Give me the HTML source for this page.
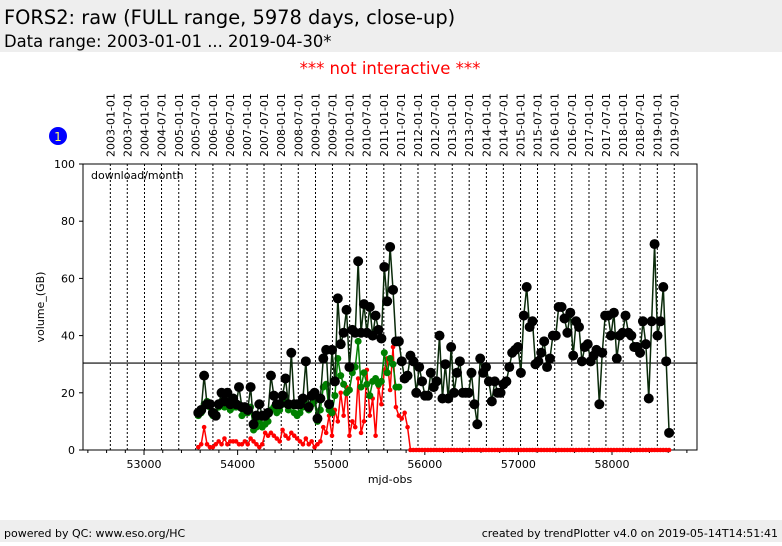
<!DOCTYPE html>
<html><head><meta charset="utf-8"><style>
body{margin:0;width:782px;height:542px;overflow:hidden;background:#fff;font-family:"DejaVu Sans","Liberation Sans",sans-serif}
</style></head><body>
<svg id="c" width="782" height="542" xmlns="http://www.w3.org/2000/svg" font-family="DejaVu Sans, Liberation Sans, sans-serif">
<rect x="0" y="0" width="782" height="52" fill="#eeeeee"/>
<text x="4" y="24" font-size="19.4" fill="#000">FORS2: raw (FULL range, 5978 days, close-up)</text>
<text x="4" y="47" font-size="16.4" fill="#000">Data range: 2003-01-01 ... 2019-04-30*</text>
<text x="390" y="74" font-size="16.5" fill="#ff0000" text-anchor="middle">*** not interactive ***</text>
<circle cx="58" cy="136" r="9" fill="#0000ff"/>
<text x="58" y="141" font-size="12" fill="#ffff66" text-anchor="middle">1</text>
<rect x="0" y="520" width="782" height="22" fill="#eeeeee"/>
<text x="4" y="537" font-size="11" fill="#000">powered by QC: www.eso.org/HC</text>
<text x="778" y="537" font-size="11" fill="#000" text-anchor="end">created by trendPlotter v4.0 on 2019-05-14T14:51:41</text>
<g id="plot"></g>
</svg>
<script>
const blackValues=[13,14,26,16,16,13,12,16,20,17,20,16,18,16,22,15,15,14,22,9,12,16,12,12,13,26,19,16,16,19,25,16,34,16,16,16,18,31,15,19,20,11,18,32,35,16,35,24,53,37,41,49,29,42,41,66,41,51,41,50,40,47,42,39,64,52,71,56,38,38,
31,25,26,33,31,20,29,24,19,19,27,22,24,40,18,30,18,36,20,27,31,20,20,20,27,16,9,32,27,29,24,17,24,20,20,23,24,29,34,35,36,27,47,57,43,45,30,31,34,38,29,32,40,40,50,50,46,41,48,33,45,43,31,36,37,31,33,35,16,34,47,47,40,48,32,40,41,47,41,40,36,36,34,45,37,18,45,72,40,45,57,31,6];
const greenValues=[12,13,16,17,15,12,12,15,17,15,17,14,15,15,16,12,13,13,15,7,8,10,8,9,10,14,15,13,14,16,17,14,16,13,12,13,15,16,14,16,17,10,14,22,23,14,13,19,32,26,23,20,21,27,29,38,22,27,23,19,24,25,23,24,34,27,32,30,22,22];
const redValues=[1,2,8,2,1,1,2,3,2,4,2,3,3,3,2,2,3,2,4,3,2,1,2,6,5,6,5,4,3,7,5,4,6,5,4,3,2,4,2,3,1,2,3,8,6,12,5,14,10,20,12,22,5,10,8,25,6,10,28,12,18,5,22,16,28,32,21,36,15,12,11,13,8];
const mjdStart=53580, mjdEnd=58610;
const averageValue=30.4;
const xTicks=[53000,54000,55000,56000,57000,58000];
const yTicks=[0,20,40,60,80,100];
const dateLabels=[];
for(let y=2003;y<=2019;y++){dateLabels.push(y+'-01-01');dateLabels.push(y+'-07-01');}

const NS='http://www.w3.org/2000/svg';
const g=document.getElementById('plot');
const L=83,R=697,T=164,B=450;
const X0=52348,X1=58908;
const xs=m=>L+(m-X0)/(X1-X0)*(R-L);
const ys=v=>B-v/100*(B-T);
function el(tag,attrs,parent){const e=document.createElementNS(NS,tag);for(const k in attrs)e.setAttribute(k,attrs[k]);(parent||g).appendChild(e);return e;}
const n=blackValues.length, step=(mjdEnd-mjdStart)/(n-1);
const mjdAt=i=>mjdStart+i*step;
const toMjd=s=>Date.parse(s+'T00:00:00Z')/86400000+40587;

dateLabels.forEach(d=>{
  const x=xs(toMjd(d));
  const ln=el('line',{x1:x,y1:T,x2:x,y2:B,stroke:'#000','stroke-width':1,'stroke-dasharray':'2,2'});
  
  
  const t=el('text',{x:0,y:0,'font-size':11,transform:`translate(${x+4},157) rotate(-90)`,fill:'#000'});
  t.textContent=d;
  
  
});
const fr=el('rect',{x:L,y:T,width:R-L,height:B-T,fill:'none',stroke:'#000','stroke-width':1});


yTicks.forEach(v=>{
  const y=ys(v);
  el('line',{x1:L-4,y1:y,x2:L,y2:y,stroke:'#000'});
  const t=el('text',{x:L-8,y:y+4,'font-size':11,'text-anchor':'end'});
  t.textContent=v;
  
  
});
for(let m=52400;m<=58800;m+=200){const x=xs(m);el('line',{x1:x,y1:B,x2:x,y2:B+(m%1000==0?5:3),stroke:'#000'});}
xTicks.forEach(m=>{
  const t=el('text',{x:xs(m),y:B+18,'font-size':11,'text-anchor':'middle'});
  t.textContent=m;
  
  
});
const xt=el('text',{x:390,y:483,'font-size':11,'text-anchor':'middle'});xt.textContent='mjd-obs';


const yt=el('text',{x:0,y:0,'font-size':11,'text-anchor':'middle',transform:`translate(44,307) rotate(-90)`});yt.textContent='volume_(GB)';


const lg=el('text',{x:91,y:179,'font-size':11});lg.textContent='download/month';


const av=el('line',{x1:L,y1:ys(averageValue),x2:R,y2:ys(averageValue),stroke:'#000','stroke-width':1.2});



function series(vals,color,r,name,lineColor,padZero){
  const pts=[];
  for(let i=0;i<vals.length;i++)pts.push([xs(mjdAt(i)),ys(vals[i])]);
  if(padZero){for(let i=vals.length;i<n;i++)pts.push([xs(mjdAt(i)),ys(0)]);}
  const pl=el('polyline',{points:pts.map(p=>p.join(',')).join(' '),fill:'none',stroke:lineColor,'stroke-width':1.5});
  
  
  pts.forEach(p=>{
    const c=el('circle',{cx:p[0],cy:p[1],r:r,fill:color});
    
    
  });
}
series(redValues,'#ff0000',2.3,'red-series','#ff0000',true);
series(greenValues,'#008000',3.5,'green-series','#008000',false);
series(blackValues,'#000',5,'total-series','#0a2a0a',false);
</script>
</body></html>
